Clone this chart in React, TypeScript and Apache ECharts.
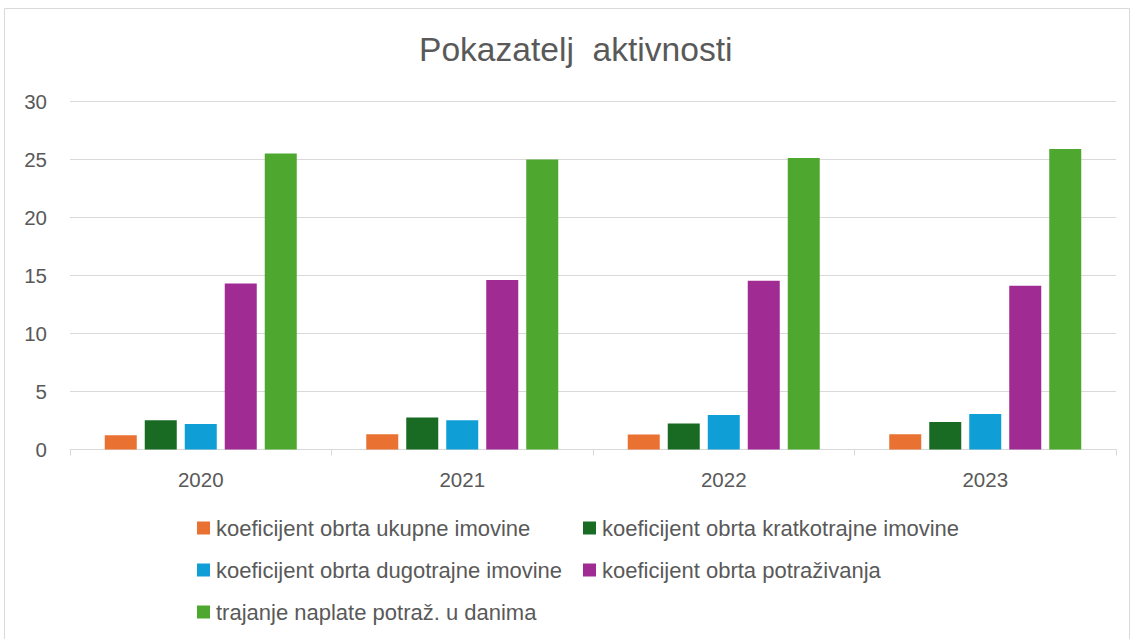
import React, { useEffect, useRef } from "react";
import * as echarts from "echarts";

const categories = ["2020", "2021", "2022", "2023"];
const seriesNames = [
  "koeficijent obrta ukupne imovine",
  "koeficijent obrta kratkotrajne imovine",
  "koeficijent obrta dugotrajne imovine",
  "koeficijent obrta potraživanja",
  "trajanje naplate potraž. u danima",
];
const ukupne = [1.23, 1.32, 1.3, 1.32];
const kratkotrajne = [2.52, 2.76, 2.24, 2.37];
const dugotrajne = [2.2, 2.52, 2.98, 3.05];
const potrazivanja = [14.3, 14.59, 14.53, 14.1];
const trajanje = [25.49, 24.97, 25.09, 25.86];
const yTicks = [0, 5, 10, 15, 20, 25, 30];

const colors = ["#E97132", "#196B24", "#0F9ED5", "#A02B93", "#4EA72E"];
const seriesData = [ukupne, kratkotrajne, dugotrajne, potrazivanja, trajanje];
const legendPos = [
  { left: 197, top: 516 },
  { left: 583, top: 516 },
  { left: 197, top: 558 },
  { left: 583, top: 558 },
  { left: 197, top: 600 },
];

const FONT = "Liberation Sans";
const TXT = "#595959";

export default function App() {
  const ref = useRef<HTMLDivElement>(null);
  useEffect(() => {
    document.body.style.margin = "0";
    const chart = echarts.init(ref.current!, null, { renderer: "svg" });
    chart.setOption({
      animation: false,
      backgroundColor: "#ffffff",
      title: {
        text: "Pokazatelj  aktivnosti",
        left: 414,
        top: 27,
        textStyle: { fontFamily: FONT, fontSize: 33.6, fontWeight: "normal", color: TXT },
      },
      graphic: [
        {
          type: "rect",
          shape: { x: 4.5, y: 8.5, width: 1125, height: 640 },
          style: { fill: "none", stroke: "#D9D9D9", lineWidth: 1 },
          silent: true,
        },
      ],
      legend: seriesNames.map((n, i) => ({
        data: [n],
        left: legendPos[i].left,
        top: legendPos[i].top,
        icon: "rect",
        itemWidth: 13,
        itemHeight: 13,
        itemGap: 0,
        padding: 0,
        textStyle: { fontFamily: FONT, fontSize: 22, lineHeight: 24, color: TXT, padding: [0, 0, 0, 1] },
      })),
      grid: { left: 70, right: 17, top: 101, bottom: 189.5, containLabel: false },
      xAxis: {
        type: "category",
        data: categories,
        axisLine: { lineStyle: { color: "#D9D9D9", width: 1 } },
        axisTick: { show: true, length: 6, lineStyle: { color: "#D9D9D9" } },
        axisLabel: { fontFamily: FONT, fontSize: 20.5, color: TXT, margin: 19 },
      },
      yAxis: {
        type: "value",
        min: yTicks[0],
        max: yTicks[yTicks.length - 1],
        interval: 5,
        axisLine: { show: false },
        axisTick: { show: false },
        splitLine: { lineStyle: { color: "#D9D9D9", width: 1 } },
        axisLabel: { fontFamily: FONT, fontSize: 20.5, color: TXT, margin: 23 },
      },
      series: seriesNames.map((n, i) => ({
        name: n,
        type: "bar",
        data: seriesData[i],
        barWidth: 32,
        barGap: "25%",
        itemStyle: { color: colors[i] },
      })),
    });
    return () => chart.dispose();
  }, []);
  return <div ref={ref} style={{ width: 1133, height: 639 }} />;
}
